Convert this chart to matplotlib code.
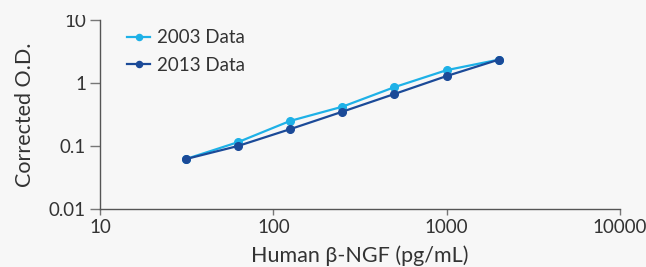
import matplotlib
matplotlib.use("Agg")
import matplotlib.pyplot as plt
from matplotlib.ticker import FixedLocator, NullLocator
from matplotlib.transforms import Bbox

conc = [31.25, 62.5, 125, 250, 500, 1000, 2000]
od_2003 = [0.062, 0.115, 0.25, 0.42, 0.86, 1.6, 2.35]
od_2013 = [0.062, 0.100, 0.185, 0.35, 0.67, 1.29, 2.35]
xticks = [10, 100, 1000, 10000]
xticklabels = ["10", "100", "1000", "10000"]
yticks = [0.01, 0.1, 1, 10]
yticklabels = ["0.01", "0.1", "1", "10"]

plt.rcParams['font.family'] = ['Lato', 'DejaVu Sans']
txt = '#333333'
bg = '#f7f7f7'

fig = plt.figure(figsize=(6.46, 2.67), dpi=100, facecolor=bg)
ax = fig.add_axes([100/646, 1-209/267, (620-100)/646, (209-20)/267], facecolor=bg)

ax.plot(conc, od_2003, '-o', color='#1eb1e7', lw=1.6, ms=5.5, label='2003 Data')
ax.plot(conc, od_2013, '-o', color='#1b4a98', lw=1.6, ms=5.5, label='2013 Data')

ax.set_xscale('log')
ax.set_yscale('log')
ax.set_xlim(10, 10000)
ax.set_ylim(0.01, 10)
ax.xaxis.set_major_locator(FixedLocator(xticks))
ax.xaxis.set_minor_locator(NullLocator())
ax.yaxis.set_major_locator(FixedLocator(yticks))
ax.yaxis.set_minor_locator(NullLocator())
ax.set_xticklabels(xticklabels)
ax.set_yticklabels(yticklabels)

for s in ['top', 'right']:
    ax.spines[s].set_visible(False)
for s in ['left', 'bottom']:
    ax.spines[s].set_color('#555555')
    ax.spines[s].set_linewidth(1.0)
ax.tick_params(axis='y', colors='#777777', labelcolor=txt, labelsize=13.5, length=7, width=1, pad=3)
ax.tick_params(axis='x', colors='#777777', labelcolor=txt, labelsize=13.5, length=4, width=1, pad=3)

ax.set_xlabel('Human β-NGF (pg/mL)', fontsize=15.5, color=txt, labelpad=7)
ax.set_ylabel('Corrected O.D.', fontsize=15.5, color=txt, labelpad=10)

leg = ax.legend(loc='upper left', bbox_to_anchor=(0.02, 1.04), frameon=False,
                fontsize=13.5, labelcolor=txt, handlelength=1.2, handletextpad=0.4,
                labelspacing=0.55, markerscale=0.8)

# top tick label is cut at the top edge in the reference
top_lbl = ax.get_yticklabels()[-1]
top_lbl.set_clip_box(Bbox.from_extents(0, 0, 646, 267 - 15))
top_lbl.set_clip_on(True)

fig.savefig('out.png', dpi=100, facecolor=bg)
